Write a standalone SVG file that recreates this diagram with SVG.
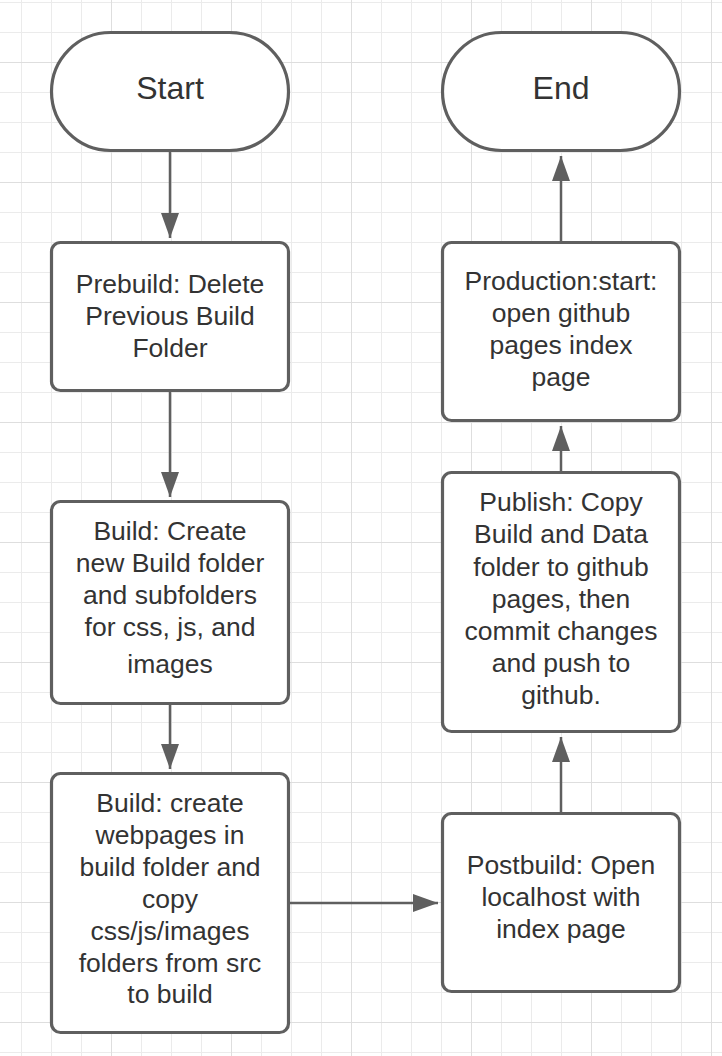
<svg xmlns="http://www.w3.org/2000/svg" width="722" height="1056" viewBox="0 0 722 1056">
<defs>
<pattern id="minor" width="30" height="30" patternUnits="userSpaceOnUse" x="21" y="2"><path d="M0 0.5H30M0.5 0V30" stroke="#ebebeb" stroke-width="1" fill="none"/></pattern>
<pattern id="major" width="120" height="120" patternUnits="userSpaceOnUse" x="111" y="62"><path d="M0 0.5H120M0.5 0V120" stroke="#dedede" stroke-width="1" fill="none"/></pattern>
<marker id="arr" markerUnits="userSpaceOnUse" markerWidth="25" markerHeight="18" refX="25" refY="9" orient="auto" viewBox="0 0 25 18"><path d="M0,0 L25,9 L0,18 Z" fill="#5f5f5f"/></marker>
</defs>
<style>
.node{fill:#ffffff;stroke:#5f5f5f;stroke-width:3.2}
.t{font-family:"Liberation Sans",Arial,sans-serif;font-size:26.5px;fill:#333333;text-anchor:middle}
.big{font-size:32px}
.c{stroke:#5f5f5f;stroke-width:2.5;fill:none}
</style>
<rect width="722" height="1056" fill="#ffffff"/>
<rect width="722" height="1056" fill="url(#minor)"/>
<rect width="722" height="1056" fill="url(#major)"/>
<g id="connectors">
<path class="c" d="M170,152 V238" marker-end="url(#arr)"/>
<path class="c" d="M170,392 V497" marker-end="url(#arr)"/>
<path class="c" d="M170,705 V769" marker-end="url(#arr)"/>
<path class="c" d="M290,903 H438" marker-end="url(#arr)"/>
<path class="c" d="M561,812 V737" marker-end="url(#arr)"/>
<path class="c" d="M561,471 V426" marker-end="url(#arr)"/>
<path class="c" d="M561,241 V156" marker-end="url(#arr)"/>
</g>
<g id="start">
<rect class="node" x="51.5" y="32.5" width="237" height="118" rx="59"/>
<text class="t big" x="170" y="99">Start</text>
</g>
<g id="prebuild">
<rect class="node" x="51.5" y="242.5" width="237" height="148" rx="9"/>
<text class="t" x="170" y="292.5">Prebuild: Delete</text>
<text class="t" x="170" y="324.5">Previous Build</text>
<text class="t" x="170" y="356.5">Folder</text>
</g>
<g id="build1">
<rect class="node" x="51.5" y="501.5" width="237" height="202" rx="9"/>
<text class="t" x="170" y="540">Build: Create</text>
<text class="t" x="170" y="572">new Build folder</text>
<text class="t" x="170" y="604">and subfolders</text>
<text class="t" x="170" y="636">for css, js, and</text>
<text class="t" x="170" y="672.5">images</text>
</g>
<g id="build2">
<rect class="node" x="51.5" y="773.5" width="237" height="259" rx="9"/>
<text class="t" x="170" y="812">Build: create</text>
<text class="t" x="170" y="844">webpages in</text>
<text class="t" x="170" y="876">build folder and</text>
<text class="t" x="170" y="907.5">copy</text>
<text class="t" x="170" y="939.5">css/js/images</text>
<text class="t" x="170" y="971.5">folders from src</text>
<text class="t" x="170" y="1003">to build</text>
</g>
<g id="end">
<rect class="node" x="442.5" y="32.5" width="237" height="118" rx="59"/>
<text class="t big" x="561" y="99">End</text>
</g>
<g id="production">
<rect class="node" x="442.5" y="242.5" width="237" height="178" rx="9"/>
<text class="t" x="561" y="290">Production:start:</text>
<text class="t" x="561" y="322">open github</text>
<text class="t" x="561" y="354">pages index</text>
<text class="t" x="561" y="386">page</text>
</g>
<g id="publish">
<rect class="node" x="442.5" y="472.5" width="237" height="259" rx="9"/>
<text class="t" x="561" y="511">Publish: Copy</text>
<text class="t" x="561" y="543">Build and Data</text>
<text class="t" x="561" y="575.5">folder to github</text>
<text class="t" x="561" y="607.5">pages, then</text>
<text class="t" x="561" y="639.5">commit changes</text>
<text class="t" x="561" y="672">and push to</text>
<text class="t" x="561" y="704">github.</text>
</g>
<g id="postbuild">
<rect class="node" x="442.5" y="813.5" width="237" height="178" rx="9"/>
<text class="t" x="561" y="874">Postbuild: Open</text>
<text class="t" x="561" y="906">localhost with</text>
<text class="t" x="561" y="938">index page</text>
</g>
</svg>
